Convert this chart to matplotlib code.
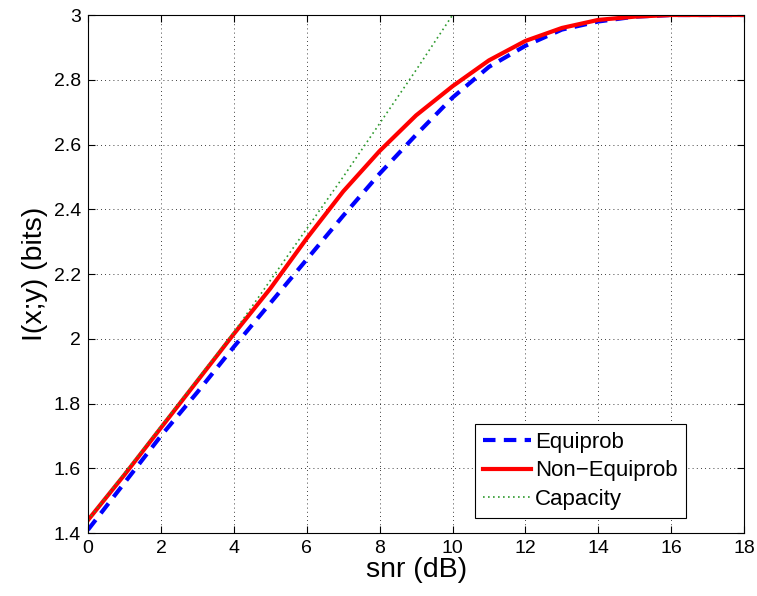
import matplotlib
matplotlib.use('Agg')
import numpy as np
import matplotlib.pyplot as plt

# data
snr = [0, 1, 2, 3, 4, 5, 6, 7, 8, 9, 10, 11, 12, 13, 14, 15, 16, 17, 18]
equi = [1.41, 1.555, 1.70, 1.835, 1.975, 2.11, 2.245, 2.38, 2.51, 2.63, 2.745,
        2.84, 2.905, 2.955, 2.98, 2.995, 3.0, 3.0, 3.0]
non_equi = [1.44, 1.58, 1.725, 1.87, 2.015, 2.155, 2.31, 2.455, 2.58, 2.69, 2.78,
            2.86, 2.92, 2.96, 2.985, 2.995, 3.0, 3.0, 3.0]
cap_snr = [0, 1, 2, 3, 4, 5, 6, 7, 8, 9, 10]
capacity = [1.44, 1.585, 1.73, 1.875, 2.02, 2.18, 2.34, 2.50, 2.665, 2.83, 3.0]

plt.rcParams['font.family'] = ['Liberation Sans', 'DejaVu Sans']

fig = plt.figure(figsize=(7.57, 5.96), dpi=100)
ax = fig.add_axes([0.1163, 0.1057, 0.8667, 0.8691])

ax.plot(snr, equi, color='blue', lw=3, ls=(0, (3, 2)), label='Equiprob')
ax.plot(snr, non_equi, color='red', lw=3, label='Non\u2212Equiprob')
ax.plot(cap_snr, capacity, color='#2e9a2e', lw=1.2, ls=(0, (1, 2)), label='Capacity')

ax.set_xlim(0, 18)
ax.set_ylim(1.4, 3)
ax.set_xticks(np.arange(0, 19, 2))
ax.set_yticks(np.arange(1.4, 3.01, 0.2))
ax.set_yticklabels(['1.4', '1.6', '1.8', '2', '2.2', '2.4', '2.6', '2.8', '3'])
ax.tick_params(direction='in', top=True, right=True, labelsize=14, length=5, width=0.8)
ax.tick_params(axis='x', pad=5)
ax.tick_params(axis='y', pad=5)
ax.grid(True, color='black', ls=(0, (1, 4)), lw=0.6)
for s in ax.spines.values():
    s.set_linewidth(0.8)

ax.set_xlabel('snr (dB)', fontsize=20.5, labelpad=0)
ax.set_ylabel('I(x;y) (bits)', fontsize=20.5, labelpad=4)

leg = ax.legend(loc='lower left', bbox_to_anchor=(0.59, 0.029), fontsize=16,
                fancybox=False, edgecolor='black', framealpha=1,
                handlelength=2.15, handletextpad=0.2, borderpad=0.35,
                borderaxespad=0, labelspacing=0.35)
leg.get_frame().set_linewidth(0.8)

fig.savefig('out.png', dpi=100)
